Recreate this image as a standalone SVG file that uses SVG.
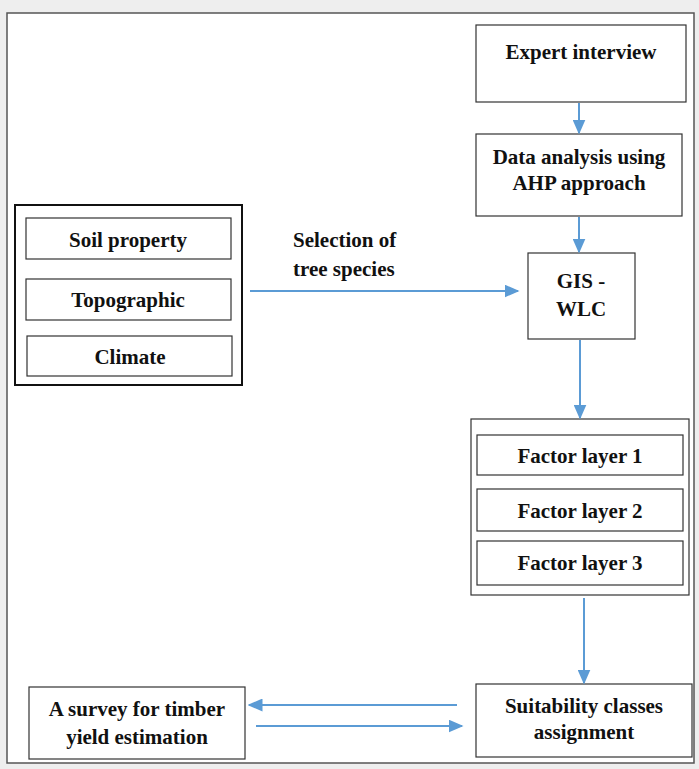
<svg xmlns="http://www.w3.org/2000/svg" width="699" height="769" viewBox="0 0 699 769">
<style>
.bx{fill:#fff;stroke:#333;stroke-width:1.2}
.t{font-family:"Liberation Serif","Times New Roman",serif;font-weight:bold;font-size:21px;fill:#111;text-anchor:middle}
.tl{text-anchor:start}
.c{stroke:#5b9bd5;stroke-width:2;fill:none;marker-end:url(#ah)}
</style>
<defs>
<marker id="ah" viewBox="0 0 10 10" refX="9" refY="5" markerWidth="15" markerHeight="13" markerUnits="userSpaceOnUse" orient="auto" preserveAspectRatio="none">
<path d="M0,0 L10,5 L0,10 z" fill="#5b9bd5"/>
</marker>
</defs>
<rect width="699" height="769" fill="#eeeeee"/>
<rect x="7" y="13" width="687" height="750" fill="#fff" stroke="#555" stroke-width="1.5"/>
<g id="expert"><rect class="bx" x="476" y="25" width="210" height="77"/><text class="t" x="581" y="59">Expert interview</text></g>
<g id="ahp"><rect class="bx" x="476" y="134" width="206" height="82"/><text class="t" x="579" y="164">Data analysis using</text><text class="t" x="579" y="190">AHP approach</text></g>
<g id="gis"><rect class="bx" x="528" y="253" width="107" height="86"/><text class="t" x="581" y="288">GIS -</text><text class="t" x="581" y="316">WLC</text></g>
<g id="inputs"><rect x="15" y="205" width="227" height="180" fill="#fff" stroke="#111" stroke-width="2"/>
<rect class="bx" x="26" y="218" width="205" height="41"/><text class="t" x="128" y="247">Soil property</text>
<rect class="bx" x="26" y="279" width="205" height="41"/><text class="t" x="128" y="307">Topographic</text>
<rect class="bx" x="27" y="336" width="205" height="40"/><text class="t" x="130" y="364">Climate</text></g>
<g id="factors"><rect class="bx" x="471" y="419" width="218" height="176"/>
<rect class="bx" x="477" y="435" width="206" height="40"/><text class="t" x="580" y="463">Factor layer 1</text>
<rect class="bx" x="477" y="489" width="206" height="42"/><text class="t" x="580" y="518">Factor layer 2</text>
<rect class="bx" x="477" y="541" width="206" height="44"/><text class="t" x="580" y="570">Factor layer 3</text></g>
<g id="suit"><rect class="bx" x="476" y="684" width="216" height="73"/><text class="t" x="584" y="713">Suitability classes</text><text class="t" x="584" y="739">assignment</text></g>
<g id="survey"><rect class="bx" x="29" y="687" width="216" height="72"/><text class="t" x="137" y="716">A survey for timber</text><text class="t" x="137" y="744">yield estimation</text></g>
<g id="label"><text class="t tl" x="293" y="247">Selection of</text><text class="t tl" x="293" y="276">tree species</text></g>
<g id="connectors">
<line class="c" x1="579" y1="103" x2="579" y2="133"/>
<line class="c" x1="579" y1="217" x2="579" y2="252"/>
<line class="c" x1="580" y1="340" x2="580" y2="418"/>
<line class="c" x1="584" y1="598" x2="584" y2="683"/>
<line class="c" x1="250" y1="291" x2="518" y2="291"/>
<line class="c" x1="457" y1="705" x2="249" y2="705"/>
<line class="c" x1="256" y1="726" x2="462" y2="726"/>
</g>
</svg>
